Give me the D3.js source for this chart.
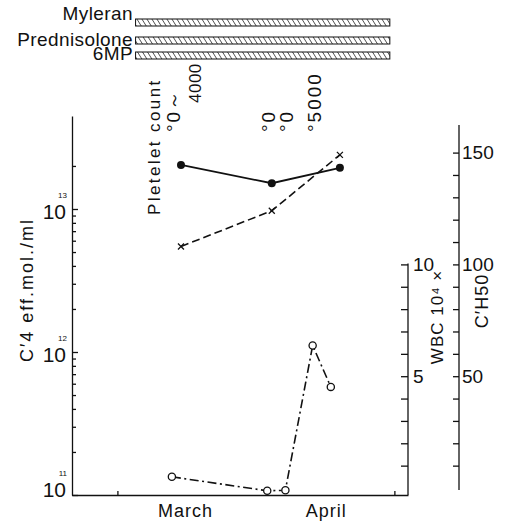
<!DOCTYPE html>
<html>
<head>
<meta charset="utf-8">
<title>C'4, C'H50, WBC</title>
<style>
  body { margin: 0; background: #fff; }
  text { font-family: "Liberation Sans", "DejaVu Sans", sans-serif; fill: #111; }
  .axis path, .axis line { stroke: #111; stroke-width: 1.3; }
</style>
</head>
<body>
<script src="https://cdn.jsdelivr.net/npm/d3@7/dist/d3.min.js"></script>
<script>
var width = 529, height = 522;
var parse = d3.timeParse("%Y-%m-%d");

// treatment periods (top bars)
var drugs = ["Myleran", "Prednisolone", "6MP"];
var drugStart = ["1967-03-05", "1967-03-05", "1967-03-05"];
var drugEnd = ["1967-04-30", "1967-04-30", "1967-04-30"];

// C'4 eff.mol./ml (open circles, dash-dot, log axis)
var c4Dates = ["1967-03-13", "1967-04-03", "1967-04-07", "1967-04-13", "1967-04-17"];
var c4Values = [1.34e11, 1.07e11, 1.08e11, 1.11e12, 5.7e11];

// C'H50 (filled circles, solid) and WBC x10^4 (crosses, dashed)
var bloodDates = ["1967-03-15", "1967-04-04", "1967-04-19"];
var ch50Values = [144.5, 136.3, 143.2];
var wbcValues = [10.8, 12.4, 14.9];

// platelet counts written above the C'4 dates
var plateletDates = ["1967-03-13", "1967-04-03", "1967-04-07", "1967-04-13"];
var plateletLabels = ["°0～", "°0", "°0", "°5000"];

// x axis
var monthTicks = ["1967-03-01", "1967-05-01"];
var monthLabels = ["March", "April"];
var monthLabelDates = ["1967-03-16", "1967-04-16"];

var svg = d3.select("body").append("svg")
    .attr("width", width)
    .attr("height", height);

// hatching for the drug bars
svg.append("defs").append("pattern")
    .attr("id", "hatch")
    .attr("patternUnits", "userSpaceOnUse")
    .attr("width", 5).attr("height", 8)
    .append("path")
    .attr("d", "M0,0L5,8M-5,0L0,8M5,0L10,8")
    .attr("stroke", "#222").attr("stroke-width", 0.8);

var x = d3.scaleTime()
    .domain([parse("1967-02-19"), parse("1967-05-04")])
    .range([72, 408]);
var yC4 = d3.scaleLog().domain([1e11, 4.47e13]).range([495, 116]);
var yCH = d3.scaleLinear().domain([0, 150]).range([488, 152.6]);
var yWBC = d3.scaleLinear().domain([0, 10]).range([488, 264.4]);

// ---- drug bars ----
var barY = [19, 37, 52];
var labelY = [20, 46, 60];
svg.selectAll(".drug")
    .data(drugs)
    .enter().append("rect")
    .attr("x", (d, i) => x(parse(drugStart[i])))
    .attr("y", (d, i) => barY[i])
    .attr("width", (d, i) => x(parse(drugEnd[i])) - x(parse(drugStart[i])))
    .attr("height", 7)
    .attr("fill", "url(#hatch)")
    .attr("stroke", "#111")
    .attr("stroke-width", 1);
svg.selectAll(".drugLabel")
    .data(drugs)
    .enter().append("text")
    .attr("x", 133)
    .attr("y", (d, i) => labelY[i])
    .attr("text-anchor", "end")
    .attr("font-size", 19)
    .attr("letter-spacing", 0.4)
    .text(d => d);

// ---- left log axis ----
var minor = [];
for (var e = 11; e <= 13; e++) {
    for (var k = 2; k <= 9; k++) {
        if (k * Math.pow(10, e) <= 2e13) minor.push(k * Math.pow(10, e));
    }
}
svg.append("g").attr("class", "axis")
    .attr("transform", "translate(72,0)")
    .call(d3.axisLeft(yC4).tickValues(minor).tickSize(-4).tickSizeOuter(0).tickFormat(""));
svg.append("g").attr("class", "axis")
    .attr("transform", "translate(72,0)")
    .call(d3.axisLeft(yC4).tickValues([1e11, 1e12, 1e13]).tickSize(-6).tickFormat(""))
    .call(g => g.select(".domain").remove());

[11, 12, 13].forEach(function (p) {
    var ty = Math.min(yC4(Math.pow(10, p)) + 10, 497);
    svg.append("text")
        .attr("x", 66).attr("y", ty)
        .attr("text-anchor", "end")
        .attr("font-size", 21)
        .text("10");
    svg.append("text")
        .attr("x", 67).attr("y", ty - 21)
        .attr("text-anchor", "end")
        .attr("font-size", 8)
        .text(p);
});

svg.append("text")
    .attr("transform", "translate(33,290) rotate(-90)")
    .attr("text-anchor", "middle")
    .attr("font-size", 18)
    .attr("letter-spacing", 2)
    .text("C′4 eff.mol./ml");

// ---- bottom axis ----
svg.append("g").attr("class", "axis")
    .attr("transform", "translate(0,495)")
    .call(d3.axisBottom(x).tickValues(monthTicks.map(parse)).tickSize(-4).tickSizeOuter(0).tickFormat(""));
svg.selectAll(".month")
    .data(monthLabels)
    .enter().append("text")
    .attr("x", (d, i) => x(parse(monthLabelDates[i])))
    .attr("y", 517)
    .attr("text-anchor", "middle")
    .attr("font-size", 18)
    .attr("letter-spacing", 1)
    .text(d => d);

// ---- WBC axis ----
svg.append("line")
    .attr("x1", 408).attr("x2", 408).attr("y1", 263.5).attr("y2", 495)
    .attr("stroke", "#111").attr("stroke-width", 1.3);
svg.append("g").attr("class", "axis")
    .attr("transform", "translate(408,0)")
    .call(d3.axisRight(yWBC).tickValues(d3.range(1, 11)).tickSizeInner(-7).tickSizeOuter(0)
        .tickPadding(5).tickFormat(d => d % 5 === 0 ? d : ""))
    .call(g => g.select(".domain").remove())
    .call(g => g.selectAll("text").attr("font-size", 19).attr("font-family", "Liberation Sans").attr("fill", "#111"));
svg.append("text")
    .attr("transform", "translate(443,317) rotate(-90)")
    .attr("text-anchor", "middle")
    .attr("font-size", 17)
    .attr("letter-spacing", 1)
    .text("WBC 10⁴ ×");

// ---- C'H50 axis ----
svg.append("line")
    .attr("x1", 459).attr("x2", 459).attr("y1", 125).attr("y2", 490)
    .attr("stroke", "#111").attr("stroke-width", 1.3);
svg.append("g").attr("class", "axis")
    .attr("transform", "translate(459,0)")
    .call(d3.axisRight(yCH).tickValues(d3.range(10, 151, 10)).tickSizeInner(-6).tickSizeOuter(0)
        .tickPadding(3).tickFormat(d => d % 50 === 0 ? d : ""))
    .call(g => g.select(".domain").remove())
    .call(g => g.selectAll("text").attr("font-size", 19).attr("font-family", "Liberation Sans").attr("fill", "#111"));
svg.append("text")
    .attr("transform", "translate(488,301) rotate(-90)")
    .attr("text-anchor", "middle")
    .attr("font-size", 18)
    .attr("letter-spacing", 1)
    .text("C′H50");

// ---- platelet count ----
svg.append("text")
    .attr("transform", "translate(160,215) rotate(-90)")
    .attr("font-size", 17)
    .attr("letter-spacing", 2.4)
    .text("Pletelet count");
svg.selectAll(".plt")
    .data(plateletLabels)
    .enter().append("text")
    .attr("transform", (d, i) => "translate(" + (x(parse(plateletDates[i])) + 8) + ",132) rotate(-90)")
    .attr("font-size", 19)
    .attr("letter-spacing", 2)
    .text(d => d);
svg.append("text")
    .attr("transform", "translate(" + (x(parse(plateletDates[0])) + 29) + ",103) rotate(-90)")
    .attr("font-size", 17)
    .attr("letter-spacing", 0.5)
    .text("4000");

// ---- series ----
var c4Pts = c4Dates.map((d, i) => [x(parse(d)), yC4(c4Values[i])]);
var chPts = bloodDates.map((d, i) => [x(parse(d)), yCH(ch50Values[i])]);
var wbcPts = bloodDates.map((d, i) => [x(parse(d)), yWBC(wbcValues[i])]);
var line = d3.line();

svg.append("path").attr("d", line(chPts))
    .attr("fill", "none").attr("stroke", "#111").attr("stroke-width", 1.8);
svg.append("path").attr("d", line(wbcPts))
    .attr("fill", "none").attr("stroke", "#111").attr("stroke-width", 1.6)
    .attr("stroke-dasharray", "8,4");
svg.append("path").attr("d", line(c4Pts))
    .attr("fill", "none").attr("stroke", "#111").attr("stroke-width", 1.6)
    .attr("stroke-dasharray", "9,3.5,2,3.5");

svg.selectAll(".ch").data(chPts).enter().append("circle")
    .attr("cx", d => d[0]).attr("cy", d => d[1]).attr("r", 4)
    .attr("fill", "#111");
svg.selectAll(".wbc").data(wbcPts).enter().append("path")
    .attr("d", d => "M" + (d[0] - 3) + "," + (d[1] - 3) + "L" + (d[0] + 3) + "," + (d[1] + 3) +
        "M" + (d[0] - 3) + "," + (d[1] + 3) + "L" + (d[0] + 3) + "," + (d[1] - 3))
    .attr("stroke", "#111").attr("stroke-width", 1.3);
svg.selectAll(".c4").data(c4Pts).enter().append("circle")
    .attr("cx", d => d[0]).attr("cy", d => d[1]).attr("r", 3.6)
    .attr("fill", "#fff").attr("stroke", "#111").attr("stroke-width", 1.3);
</script>
</body>
</html>
